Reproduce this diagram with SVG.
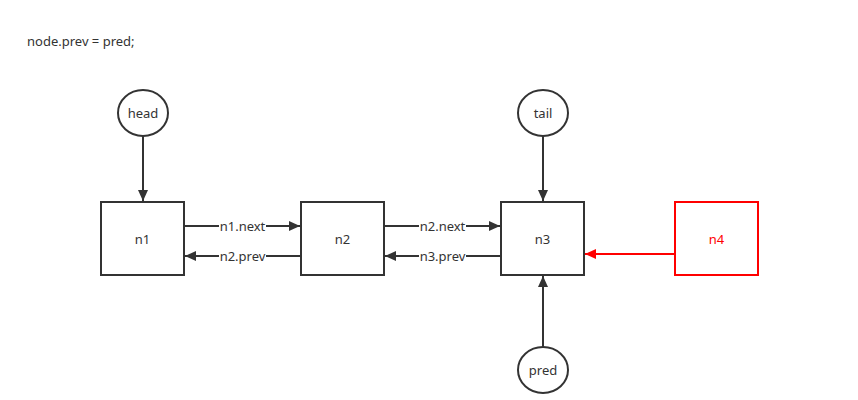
<svg xmlns="http://www.w3.org/2000/svg" width="858" height="400" viewBox="0 0 858 400">
<style>
text{font-family:"Noto Sans","Liberation Sans",sans-serif;font-size:13px;fill:#333;}
.box{fill:#fff;stroke:#333;stroke-width:2;}
.red{fill:#fff;stroke:#f00;stroke-width:2;}
.ln{stroke:#333;stroke-width:2;fill:none;marker-end:url(#ah);}
.lr{stroke:#f00;stroke-width:2;fill:none;marker-end:url(#ahr);}
.lbl{text-anchor:middle;dominant-baseline:central;}
.bg{fill:#fff;}
</style>
<defs>
<marker id="ah" viewBox="0 0 10 10" refX="10" refY="5" markerWidth="11" markerHeight="10" markerUnits="userSpaceOnUse" orient="auto" preserveAspectRatio="none"><path d="M0,0 L10,5 L0,10 z" fill="#333"/></marker>
<marker id="ahr" viewBox="0 0 10 10" refX="10" refY="5" markerWidth="11" markerHeight="10" markerUnits="userSpaceOnUse" orient="auto" preserveAspectRatio="none"><path d="M0,0 L10,5 L0,10 z" fill="#f00"/></marker>
</defs>
<rect width="858" height="400" fill="#fff"/>
<text x="27" y="46">node.prev = pred;</text>
<g id="connectors">
<line class="ln" x1="143" y1="136" x2="143" y2="201"/>
<line class="ln" x1="543" y1="136" x2="543" y2="201"/>
<line class="ln" x1="543" y1="347" x2="543" y2="276"/>
<line class="ln" x1="184" y1="226" x2="300" y2="226"/>
<line class="ln" x1="301" y1="256" x2="185" y2="256"/>
<line class="ln" x1="384" y1="226" x2="500" y2="226"/>
<line class="ln" x1="501" y1="256" x2="385" y2="256"/>
<line class="lr" x1="675" y1="254" x2="585" y2="254"/>
<rect class="bg" x="219" y="219" width="47" height="14"/>
<text class="lbl" x="242.5" y="226">n1.next</text>
<rect class="bg" x="219" y="249" width="47" height="14"/>
<text class="lbl" x="242.5" y="256">n2.prev</text>
<rect class="bg" x="419" y="219" width="47" height="14"/>
<text class="lbl" x="442.5" y="226">n2.next</text>
<rect class="bg" x="419" y="249" width="47" height="14"/>
<text class="lbl" x="442.5" y="256">n3.prev</text>
</g>
<g id="head"><ellipse class="box" cx="143" cy="113" rx="25" ry="23"/><text class="lbl" x="143" y="113">head</text></g>
<g id="tail"><ellipse class="box" cx="543" cy="113" rx="25" ry="23"/><text class="lbl" x="543" y="113">tail</text></g>
<g id="pred"><ellipse class="box" cx="543" cy="370" rx="25" ry="23"/><text class="lbl" x="543" y="370">pred</text></g>
<g id="n1"><rect class="box" x="101" y="202" width="83" height="73"/><text class="lbl" x="142.5" y="239">n1</text></g>
<g id="n2"><rect class="box" x="301" y="202" width="83" height="73"/><text class="lbl" x="342.5" y="239">n2</text></g>
<g id="n3"><rect class="box" x="501" y="202" width="83" height="73"/><text class="lbl" x="542.5" y="239">n3</text></g>
<g id="n4"><rect class="red" x="675" y="202" width="83" height="73"/><text class="lbl" x="716.5" y="239" style="fill:#f00">n4</text></g>
</svg>
